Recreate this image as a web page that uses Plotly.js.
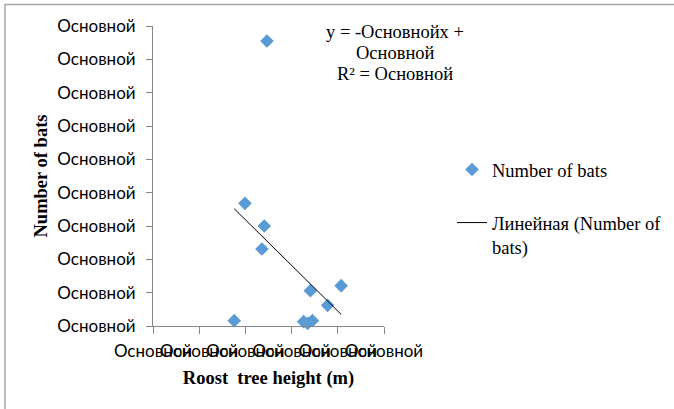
<!DOCTYPE html>
<html><head><meta charset="utf-8">
<script src="https://cdn.plot.ly/plotly-3.0.1.min.js"></script>
<style>html,body{margin:0;padding:0;background:#fff;}#chart{width:674px;height:409px;}</style>
</head><body><div id="chart"></div>
<script>
// Data (axis units: x 0..25, y 0..90)
const roostHeight  = [12.33, 9.95, 12.04, 11.79, 8.79, 16.30, 16.74, 17.25, 17.03, 20.36, 18.90];
const numberOfBats = [85.5, 36.8, 30.0, 23.1, 1.6, 1.3, 0.8, 1.6, 10.6, 12.1, 6.2];
const xTickValues = [0, 5, 10, 15, 20, 25];
const xTickLabels = ['Основной','Основной','Основной','Основной','Основной','Основной'];
const yTickValues = [0, 10, 20, 30, 40, 50, 60, 70, 80, 90];
const yTickLabels = ['Основной','Основной','Основной','Основной','Основной','Основной','Основной','Основной','Основной','Основной'];
const seriesName = 'Number of bats';
const trendName = 'Линейная (Number of<br>bats)';
const xTitle = 'Roost\u00a0 tree height (m)';
const yTitle = 'Number of bats';
const equationLines = ['y = -Основнойx +', 'Основной', 'R² = Основной'];

// Linear regression (Excel linear trendline)
const n = roostHeight.length;
const mx = roostHeight.reduce((a,b)=>a+b,0)/n;
const my = numberOfBats.reduce((a,b)=>a+b,0)/n;
let sxy = 0, sxx = 0;
for (let i=0;i<n;i++){ sxy += (roostHeight[i]-mx)*(numberOfBats[i]-my); sxx += (roostHeight[i]-mx)**2; }
const slope = sxy/sxx, intercept = my - slope*mx;
const tx = [Math.min(...roostHeight), Math.max(...roostHeight)];
const ty = tx.map(v => intercept + slope*v);

const L = 153, R = 290, T = 26, B = 83, W = 674, H = 409;
const pw = W - L - R, ph = H - T - B;
const px2x = p => (p - L)/pw;
const px2y = p => (H - B - p)/ph;

const serif = 'Liberation Serif, Times New Roman, serif';
const sans = 'Lato, Carlito, Calibri, sans-serif';

const traces = [
  {x: roostHeight, y: numberOfBats, type:'scatter', mode:'markers', name: seriesName,
   marker:{symbol:'diamond', size:10.5, color:'#5B9BD5', line:{width:0}}, legendgroup:'a', cliponaxis:false},
  {x: tx, y: ty, type:'scatter', mode:'lines', name: trendName,
   line:{color:'#000000', width:1}, legendgroup:'b'}
];

const annotations = equationLines.map((t, i) => ({
  text: t, xref:'paper', yref:'paper', x: px2x(395), y: px2y(32.5 + i*20.5),
  xanchor:'center', yanchor:'middle', showarrow:false,
  font:{family: serif, size:18.5, color:'#000'}
}));

const layout = {
  width: W, height: H,
  margin:{l:L, r:R, t:T, b:B, pad:0, autoexpand:false},
  paper_bgcolor:'#fff', plot_bgcolor:'#fff',
  showlegend:true,
  legend:{x: px2x(452), y: px2y(151), xanchor:'left', yanchor:'top',
    font:{family: serif, size:18.5, color:'#000'}, valign:'top',
    traceorder:'grouped', tracegroupgap:26, bgcolor:'rgba(0,0,0,0)'},
  xaxis:{range:[0,25], tickvals:xTickValues, ticktext:xTickLabels, tickangle:0,
    showgrid:false, zeroline:false, showline:true, linecolor:'#868686', linewidth:1,
    ticks:'outside', ticklen:7, tickcolor:'#868686', tickwidth:1, ticklabelstandoff:3,
    tickfont:{family: sans, size:17, color:'#000'}, automargin:false,
    title:{text: xTitle, standoff:10, font:{family: serif, size:18.5, color:'#000', weight:'bold'}}},
  yaxis:{range:[0,90], tickvals:yTickValues, ticktext:yTickLabels,
    showgrid:false, zeroline:false, showline:true, linecolor:'#868686', linewidth:1,
    ticks:'outside', ticklen:6, tickcolor:'#868686', tickwidth:1, ticklabelstandoff:7,
    tickfont:{family: sans, size:17, color:'#000'}, automargin:false,
    title:{text: yTitle, standoff:4, font:{family: serif, size:18.5, color:'#000', weight:'bold'}}},
  annotations: annotations,
  shapes:[{type:'rect', xref:'paper', yref:'paper', x0: px2x(5), x1: px2x(690), y0: px2y(420), y1: px2y(4.5),
    line:{color:'#A6A6A6', width:1.5}, fillcolor:'rgba(0,0,0,0)', layer:'below'}]
};

Plotly.newPlot('chart', traces, layout, {displayModeBar:false, staticPlot:true});
</script>
</body></html>
